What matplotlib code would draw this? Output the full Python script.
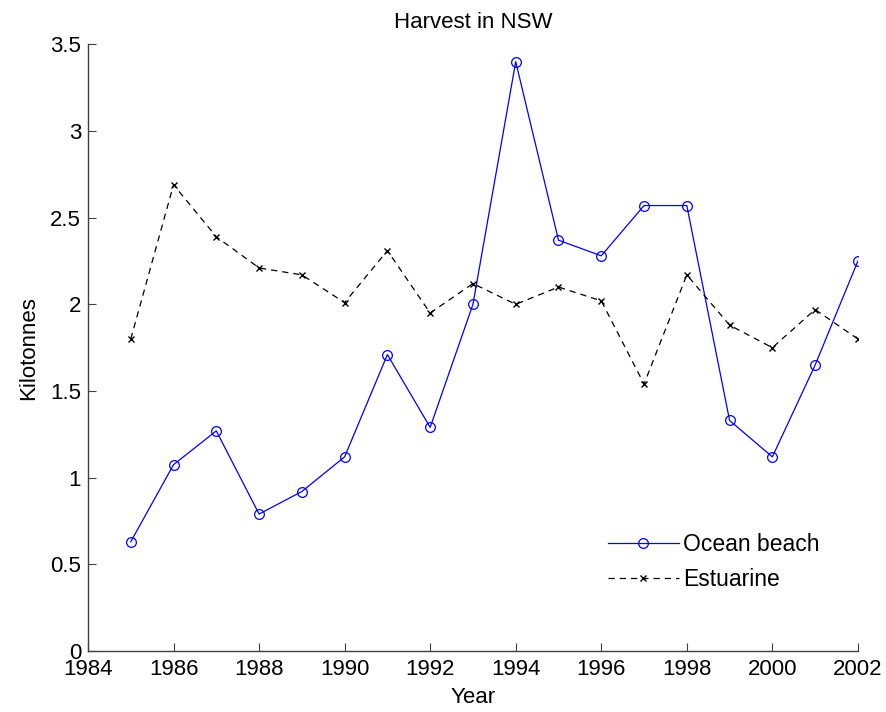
import matplotlib
matplotlib.use("Agg")
import matplotlib.pyplot as plt

plt.rcParams['font.family'] = ['Liberation Sans', 'DejaVu Sans']

# Annual harvest in NSW (kilotonnes)
years = [1985, 1986, 1987, 1988, 1989, 1990, 1991, 1992, 1993,
         1994, 1995, 1996, 1997, 1998, 1999, 2000, 2001, 2002]
ocean_beach = [0.63, 1.075, 1.27, 0.79, 0.92, 1.12, 1.71, 1.29, 2.00,
               3.40, 2.37, 2.28, 2.57, 2.57, 1.33, 1.12, 1.65, 2.25]
estuarine = [1.80, 2.69, 2.39, 2.21, 2.17, 2.01, 2.31, 1.95, 2.12,
             2.00, 2.10, 2.02, 1.54, 2.17, 1.88, 1.75, 1.97, 1.80]

xticks = list(range(1984, 2003, 2))
yticks = [0, 0.5, 1, 1.5, 2, 2.5, 3, 3.5]

fig = plt.figure(figsize=(8.86, 7.12), dpi=100)
ax = fig.add_axes([0.0993, 0.0857, 0.869, 0.852])

ax.plot(years, ocean_beach, color='#0000ff', linewidth=0.9, marker='o',
        markersize=7, markerfacecolor='none', markeredgecolor='#0000ff',
        markeredgewidth=0.9, label='Ocean beach')
ax.plot(years, estuarine, color='black', linewidth=0.9, linestyle=(0, (5, 4)),
        marker='x', markersize=5, markeredgewidth=1.0, label='Estuarine')

ax.set_xlim(1984, 2002)
ax.set_ylim(0, 3.5)
ax.set_xticks(xticks)
ax.set_yticks(yticks)
ax.set_yticklabels(['0', '0.5', '1', '1.5', '2', '2.5', '3', '3.5'])

for side in ('top', 'right'):
    ax.spines[side].set_visible(False)
for side in ('left', 'bottom'):
    ax.spines[side].set_color('#404040')
    ax.spines[side].set_linewidth(1.0)

ax.tick_params(direction='in', length=6, width=0.8, color='#404040',
               labelsize=16)
ax.tick_params(axis='x', pad=6)
ax.tick_params(axis='y', pad=5)

ax.set_title('Harvest in NSW', fontsize=16, pad=12)
ax.set_xlabel('Year', fontsize=16, labelpad=5)
ax.set_ylabel('Kilotonnes', fontsize=16, labelpad=8)

ax.legend(loc='upper left', bbox_to_anchor=(0.66, 0.213), frameon=False,
          fontsize=16.5, borderpad=0, handlelength=3.1, handletextpad=0.2,
          labelspacing=0.5)

fig.savefig('out.png', dpi=100)
